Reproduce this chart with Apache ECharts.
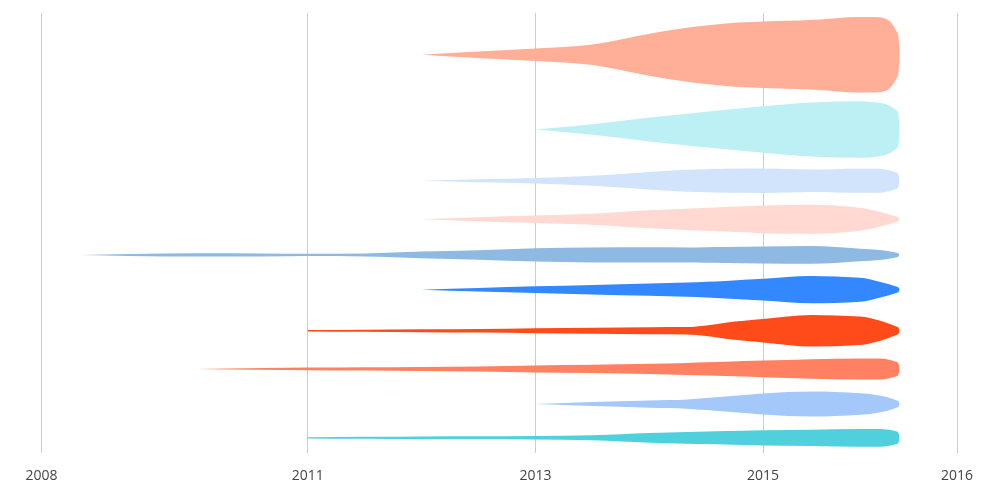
<!DOCTYPE html>
<html>
<head>
<meta charset="utf-8">
<script src="https://cdn.jsdelivr.net/npm/echarts@6/dist/echarts.min.js"></script>
<style>
html, body { margin: 0; padding: 0; background: #fff; }
#main { width: 987px; height: 490px; }
</style>
</head>
<body>
<div id="main"></div>
<script>
var _ = null;
// sample dates (fractional years) shared by every row
var years = [2008.45, 2009, 2009.75, 2010.5, 2011, 2011.5, 2012, 2012.5, 2013, 2013.5, 2014, 2014.33, 2014.5, 2014.67, 2015, 2015.25, 2015.5, 2015.6, 2015.65, 2015.69];
var tickYears = [2008, 2011, 2013, 2015, 2016];
var tickLabels = ['2008', '2011', '2013', '2015', '2016'];

// thickness of each stream at the sample dates (null = no reading)
var w1 = [_, _, _, _, _, _, 0, 6.5, 12.5, 20.5, 42, 54, 58.5, 62.5, 66.5, 69.5, 75.5, 75, 68, 46];
var w2 = [_, _, _, _, _, _, _, _, 0, 10.5, 24, 31.8, 35.5, 39.5, 46.5, 54, 56.5, 53.5, 48, 38];
var w3 = [_, _, _, _, _, _, 0, 3, 5.5, 10, 17.5, 22, 23, 24, 24.3, 22.5, 24, 24, 21, 16];
var w4 = [_, _, _, _, _, _, 0, 4, 7.5, 11, 18, 21.3, 23, 24.6, 27.7, 29, 23, 15, 10, 5];
var w5 = [0, 2, 3.3, 3, 2.3, 3, 6.7, 9.5, 13.3, 15, 15.4, 15, 15.5, 16, 17, 17.8, 12.5, 10, 7.5, 4.5];
var w6 = [_, _, _, _, _, _, 0, 3.5, 6.7, 9.5, 12.3, 14.3, 15.8, 17.5, 21.7, 27.3, 24, 16, 11, 6];
var w7 = [_, _, _, _, 1.3, 2.2, 2.8, 3.5, 5, 6.1, 7, 7.3, 10.5, 16, 23.3, 31.5, 28.5, 20.5, 14, 8];
var w8 = [_, _, 0, 1.7, 2.7, 3.3, 4, 5, 7, 8.4, 10.3, 12, 13.2, 14.4, 16.7, 19.5, 21, 21, 18.5, 14];
var w9 = [_, _, _, _, _, _, _, _, 0, 4, 7.3, 9.3, 12, 15, 21, 25, 21.5, 17, 12.5, 7];
var w10 = [_, _, _, _, 1.3, 2, 2.7, 3, 3.5, 5, 9.7, 11.7, 12.6, 13.5, 15.3, 16.3, 17.7, 17.8, 16, 12.5];

var rows = [w1, w2, w3, w4, w5, w6, w7, w8, w9, w10];
var colors = ['#FFAE97', '#BDF0F5', '#D2E4FC', '#FFD9D2', '#8DB9E2', '#3388FF', '#FF4A1A', '#FF8161', '#A5C8FA', '#50D0DC'];

// x scale: piecewise between the labelled years
var tickStops = [0, 266.2, 494, 721.5, 915.5];
function toX(yr) {
    for (var i = 1; i < tickYears.length; i++) {
        if (yr <= tickYears[i]) {
            var t = (yr - tickYears[i - 1]) / (tickYears[i] - tickYears[i - 1]);
            return tickStops[i - 1] + t * (tickStops[i] - tickStops[i - 1]);
        }
    }
    return tickStops[tickStops.length - 1];
}

// each row gets a band proportional to its widest point plus padding
var span = 440, pad = 15.2;
var maxes = rows.map(function (r) {
    return Math.max.apply(null, r.filter(function (v) { return v != null; }));
});
var total = maxes.reduce(function (s, m) { return s + m + pad; }, 0);
var centers = [], acc = 0;
maxes.forEach(function (m) {
    var band = (m + pad) * span / total;
    centers.push(acc + band / 2);
    acc += band;
});

// monotone cubic slopes (same rule as d3 monotoneX)
function sgn(v) { return v < 0 ? -1 : 1; }
function slopes(xs, ys) {
    var n = xs.length, m = new Array(n);
    if (n < 2) return [0];
    for (var i = 1; i < n - 1; i++) {
        var h0 = xs[i] - xs[i - 1], h1 = xs[i + 1] - xs[i];
        var s0 = (ys[i] - ys[i - 1]) / h0, s1 = (ys[i + 1] - ys[i]) / h1;
        var p = (s0 * h1 + s1 * h0) / (h0 + h1);
        m[i] = (sgn(s0) + sgn(s1)) * Math.min(Math.abs(s0), Math.abs(s1), 0.5 * Math.abs(p)) || 0;
    }
    var a = xs[1] - xs[0], b = xs[n - 1] - xs[n - 2];
    m[0] = n > 2 ? (3 * (ys[1] - ys[0]) / a - m[1]) / 2 : (ys[1] - ys[0]) / a;
    m[n - 1] = n > 2 ? (3 * (ys[n - 1] - ys[n - 2]) / b - m[n - 2]) / 2 : (ys[n - 1] - ys[n - 2]) / b;
    return m;
}
function seg(x0, y0, m0, x1, y1, m1) {
    var h = (x1 - x0) / 3;
    return ' C' + (x0 + h) + ',' + (y0 + m0 * h) + ' ' + (x1 - h) + ',' + (y1 - m1 * h) + ' ' + x1 + ',' + y1;
}

function streamPath(api, i) {
    var w = rows[i], c = centers[i];
    var xs = [], yu = [], yl = [];
    years.forEach(function (yr, k) {
        if (w[k] == null) return;
        var pu = api.coord([toX(yr), c - w[k] / 2]);
        var pl = api.coord([toX(yr), c + w[k] / 2]);
        xs.push(pu[0]); yu.push(pu[1]); yl.push(pl[1]);
    });
    var n = xs.length, mu = slopes(xs, yu), ml = slopes(xs, yl);
    var d = 'M' + xs[0] + ',' + yu[0];
    for (var k = 1; k < n; k++) d += seg(xs[k - 1], yu[k - 1], mu[k - 1], xs[k], yu[k], mu[k]);
    // rounded cap at the right end
    var xe = xs[n - 1], ry = (yl[n - 1] - yu[n - 1]) / 2, ym = yu[n - 1] + ry;
    var rx = Math.min(2.5, ry), q = 0.5523;
    d += ' C' + (xe + q * rx) + ',' + yu[n - 1] + ' ' + (xe + rx) + ',' + (ym - q * ry) + ' ' + (xe + rx) + ',' + ym;
    d += ' C' + (xe + rx) + ',' + (ym + q * ry) + ' ' + (xe + q * rx) + ',' + yl[n - 1] + ' ' + xe + ',' + yl[n - 1];
    for (k = n - 1; k > 0; k--) d += seg(xs[k], yl[k], ml[k], xs[k - 1], yl[k - 1], ml[k - 1]);
    return d + ' Z';
}

var myChart = echarts.init(document.getElementById('main'));

var option = {
    animation: false,
    grid: { left: 41.5, right: 30, top: 13, bottom: 37, outerBoundsMode: 'none' },
    xAxis: {
        type: 'value',
        min: 0,
        max: tickStops[tickStops.length - 1],
        axisLine: { show: false },
        axisTick: { show: false },
        splitLine: { show: false },
        axisLabel: {
            customValues: tickYears.map(toX),
            margin: 16,
            color: '#444',
            fontSize: 14,
            fontFamily: 'Open Sans',
            formatter: function (v) {
                for (var i = 0; i < tickYears.length; i++) {
                    if (Math.abs(toX(tickYears[i]) - v) < 0.5) return tickLabels[i];
                }
                return '';
            }
        }
    },
    yAxis: {
        type: 'value',
        min: 0,
        max: span,
        inverse: true,
        show: false
    },
    series: [{
        type: 'custom',
        silent: true,
        z: 1,
        data: tickYears.map(function (y) { return [toX(y), 0]; }),
        renderItem: function (params, api) {
            var top = api.coord([api.value(0), 0]);
            var bot = api.coord([api.value(0), span]);
            var x = Math.round(top[0] - 0.5) + 0.5;
            return {
                type: 'line',
                shape: { x1: x, y1: top[1], x2: x, y2: bot[1] },
                style: { stroke: '#cccccc', lineWidth: 1 }
            };
        }
    }, {
        type: 'custom',
        z: 2,
        data: rows.map(function (r, i) { return [0, centers[i]]; }),
        renderItem: function (params, api) {
            return {
                type: 'path',
                shape: { pathData: streamPath(api, params.dataIndex) },
                style: { fill: colors[params.dataIndex] }
            };
        }
    }]
};

myChart.setOption(option);
</script>
</body>
</html>
